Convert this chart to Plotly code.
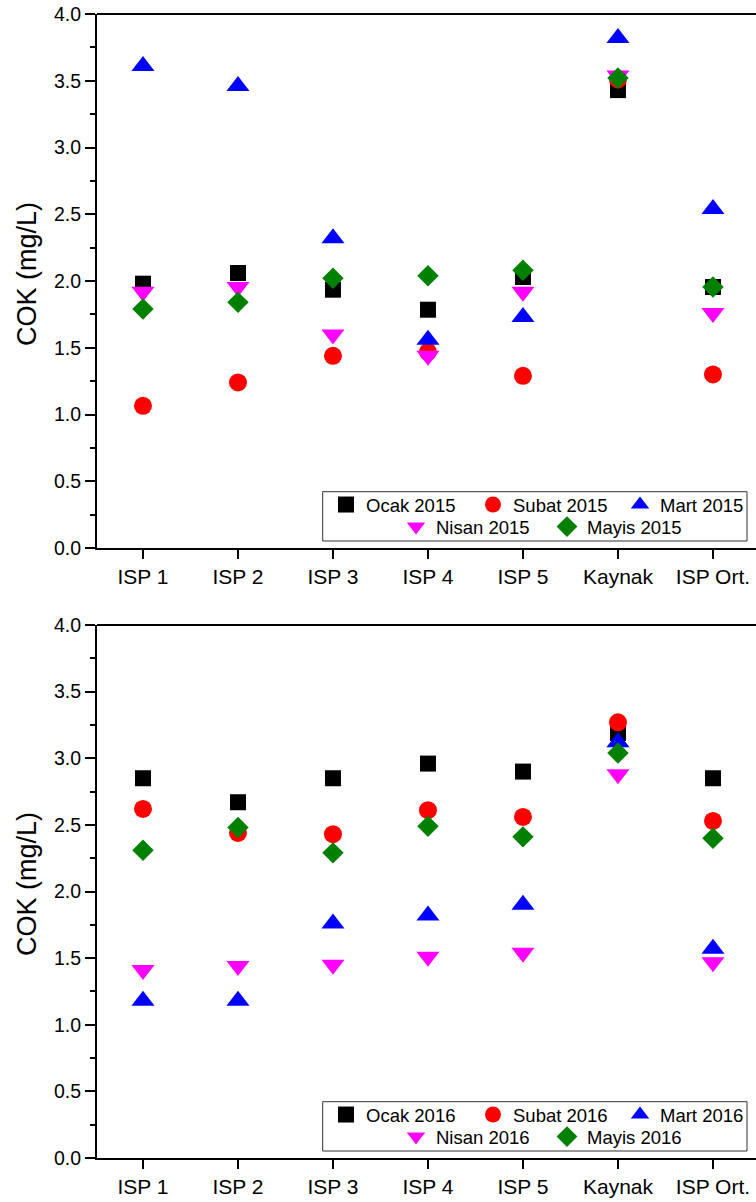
import plotly.graph_objects as go

sites = ["ISP 1", "ISP 2", "ISP 3", "ISP 4", "ISP 5", "Kaynak", "ISP Ort."]

ocak_2015 = [1.98, 2.06, 1.935, 1.785, 2.03, 3.43, 1.955]
subat_2015 = [1.065, 1.24, 1.44, 1.47, 1.29, 3.51, 1.30]
mart_2015 = [3.61, 3.46, 2.32, 1.56, 1.73, 3.82, 2.54]
nisan_2015 = [1.92, 1.955, 1.60, 1.44, 1.92, 3.54, 1.76]
mayis_2015 = [1.79, 1.84, 2.02, 2.04, 2.08, 3.52, 1.955]

ocak_2016 = [2.85, 2.67, 2.85, 2.96, 2.90, 3.19, 2.85]
subat_2016 = [2.62, 2.44, 2.43, 2.61, 2.56, 3.27, 2.53]
mart_2016 = [1.18, 1.18, 1.76, 1.82, 1.90, 3.12, 1.57]
nisan_2016 = [1.41, 1.44, 1.45, 1.51, 1.54, 2.88, 1.47]
mayis_2016 = [2.31, 2.48, 2.29, 2.49, 2.41, 3.04, 2.40]

y_ticks = [0.0, 0.5, 1.0, 1.5, 2.0, 2.5, 3.0, 3.5, 4.0]

FONT = "Arial, 'Liberation Sans', sans-serif"

styles = [
    ("Ocak", "square", "#000000", 16),
    ("Subat", "circle", "#FF0000", 18),
    ("Mart", "triangle-up", "#0000FF", 20),
    ("Nisan", "triangle-down", "#FF00FF", 20),
    ("Mayis", "diamond", "#008000", 16.5),
]

fig = go.Figure()

panels = [
    ("2015", [ocak_2015, subat_2015, mart_2015, nisan_2015, mayis_2015], "x", "y", ("legend", "legend2")),
    ("2016", [ocak_2016, subat_2016, mart_2016, nisan_2016, mayis_2016], "x2", "y2", ("legend3", "legend4")),
]

for year, series, xa, ya, (lg1, lg2) in panels:
    for i, ((name, sym, col, size), vals) in enumerate(zip(styles, series)):
        fig.add_trace(go.Scatter(
            x=sites, y=vals, mode="markers", name=f"{name} {year}",
            marker=dict(symbol=sym, color=col, size=size, line=dict(width=0)),
            xaxis=xa, yaxis=ya, legend=lg1 if i < 3 else lg2,
        ))

xr = [-0.484, 6.453]
axis_common = dict(showline=True, linecolor="black", linewidth=2, mirror=False,
                   showgrid=False, zeroline=False, ticks="outside", tickcolor="black",
                   tickwidth=2)

xcommon = dict(axis_common, type="category", range=xr, ticklen=9,
               tickfont=dict(family=FONT, size=21, color="black"))
ycommon = dict(axis_common, range=[0, 4], tickvals=y_ticks,
               ticktext=[f"{v:.1f}" for v in y_ticks], ticklen=10,
               tickfont=dict(family=FONT, size=19.5, color="black"),
               minor=dict(ticks="outside", ticklen=5, tickwidth=2, tickcolor="black",
                          dtick=0.25, tick0=0, showgrid=False))

top_dom = [0.5332, 1.0]
bot_dom = [0.0, 0.4659]

fig.update_layout(
    width=756, height=1202,
    margin=dict(l=97, r=0, t=14, b=44, autoexpand=False),
    paper_bgcolor="white", plot_bgcolor="white",
    xaxis=dict(xcommon, anchor="y"),
    yaxis=dict(ycommon, domain=top_dom, anchor="x"),
    xaxis2=dict(xcommon, anchor="y2"),
    yaxis2=dict(ycommon, domain=bot_dom, anchor="x2"),
    showlegend=True,
)

# top spines (no right spine in reference)
for yd in (top_dom, bot_dom):
    fig.add_shape(type="line", xref="paper", yref="paper", x0=0, x1=1, y0=yd[1], y1=yd[1],
                  line=dict(color="black", width=2))


def py(p):
    return (1158 - p) / 1144.0


def px(p):
    return (p - 97) / 659.0


# y-axis titles
for yc in (274, 884):
    fig.add_annotation(text="COK (mg/L)", xref="paper", yref="paper", x=px(27), y=py(yc),
                       xanchor="center", yanchor="middle", textangle=-90, showarrow=False,
                       font=dict(family=FONT, size=27, color="black"))

leg_common = dict(orientation="h", xanchor="left", yanchor="middle",
                  bgcolor="rgba(0,0,0,0)", borderwidth=0,
                  font=dict(family=FONT, size=18.5, color="black"),
                  entrywidthmode="pixels", itemclick=False)

fig.update_layout(
    legend=dict(leg_common, x=px(326), y=py(505), entrywidth=102),
    legend2=dict(leg_common, x=px(396), y=py(527), entrywidth=106),
    legend3=dict(leg_common, x=px(326), y=py(1115), entrywidth=102),
    legend4=dict(leg_common, x=px(396), y=py(1137), entrywidth=106),
)

for (t, b) in ((491.7, 541), (1101.7, 1151)):
    fig.add_shape(type="rect", xref="paper", yref="paper", x0=px(322.7), x1=px(747),
                  y0=py(b), y1=py(t),
                  line=dict(color="#333333", width=1), fillcolor="rgba(0,0,0,0)")

fig.write_html("out.html")
